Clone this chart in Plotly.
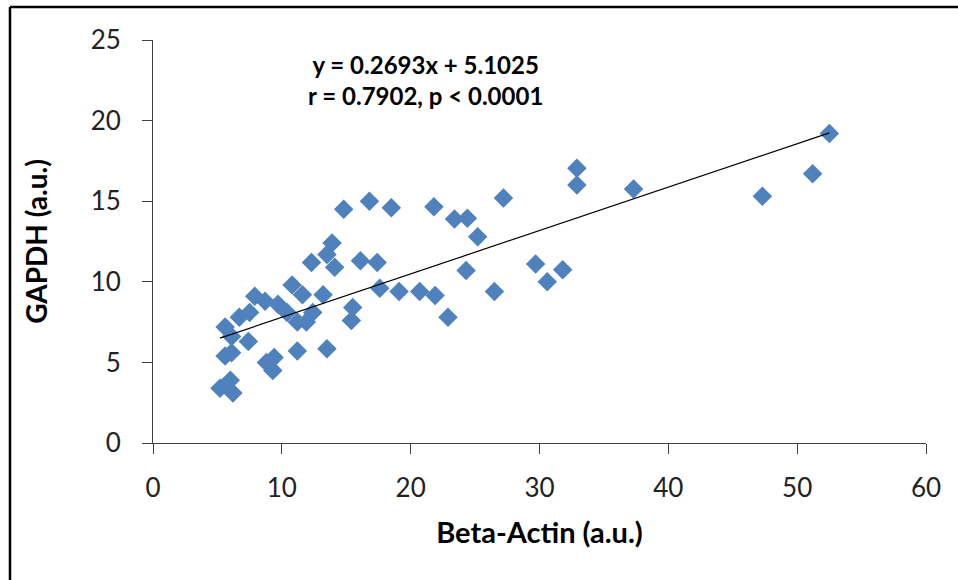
import plotly.graph_objects as go

beta_actin = [5.2, 6.0, 6.2, 5.6, 6.1, 7.4, 5.6, 6.1, 6.7, 7.5, 7.9, 8.7, 9.7, 10.4,
              10.8, 11.6, 11.2, 11.9, 12.4, 8.8, 9.3, 9.4, 11.2, 13.5, 13.2, 12.3,
              13.9, 13.5, 14.1, 14.8, 16.8, 18.5, 16.1, 17.4, 15.5, 15.4, 17.6, 19.1,
              20.7, 21.9, 22.9, 21.8, 23.4, 24.4, 25.2, 27.2, 24.3, 26.5, 29.7, 30.6,
              31.8, 32.9, 32.9, 37.3, 47.3, 51.2, 52.5]
gapdh = [3.4, 3.9, 3.1, 5.4, 6.6, 6.3, 7.2, 5.6, 7.8, 8.1, 9.1, 8.8, 8.6, 8.1,
         9.8, 9.2, 7.5, 7.5, 8.1, 5.0, 4.5, 5.3, 5.7, 5.85, 9.2, 11.2,
         12.4, 11.7, 10.9, 14.5, 15.0, 14.6, 11.3, 11.2, 8.4, 7.6, 9.6, 9.4,
         9.4, 9.15, 7.8, 14.65, 13.9, 13.95, 12.8, 15.2, 10.7, 9.4, 11.1, 10.0,
         10.75, 17.05, 16.0, 15.75, 15.3, 16.7, 19.2]

slope = 0.2693
intercept = 5.1025
eq_text = "y = 0.2693x + 5.1025"
stat_text = "r = 0.7902, p < 0.0001"
x_title = "Beta-Actin (a.u.)"
y_title = "GAPDH (a.u.)"

x_min, x_max = min(beta_actin), max(beta_actin)
fit_x = [x_min, x_max]
fit_y = [slope * v + intercept for v in fit_x]

fig = go.Figure()
fig.add_trace(go.Scatter(
    x=beta_actin, y=gapdh, mode="markers",
    marker=dict(symbol="diamond", size=15, color="#4F81BD", line=dict(width=0)),
    showlegend=False,
))
fig.add_trace(go.Scatter(
    x=fit_x, y=fit_y, mode="lines",
    line=dict(color="black", width=1.2), showlegend=False,
))

font_family = "Lato, Open Sans, sans-serif"
fig.add_annotation(
    x=0.353, y=0.901, xref="paper", yref="paper", xanchor="center", yanchor="middle",
    text=f"<b>{eq_text}</b><br><b>{stat_text}</b>", showarrow=False,
    font=dict(family=font_family, size=24, color="black"), align="center",
)

axis_common = dict(
    showgrid=False, zeroline=False, showline=True, linecolor="#404040", linewidth=1,
    ticks="outside", ticklen=10, tickcolor="#404040", tickwidth=1,
    tickfont=dict(family=font_family, size=26, color="#222222"),
)
fig.update_xaxes(range=[0, 60], dtick=10, tick0=0, ticklabelstandoff=12, **axis_common,
                 title=dict(text=f"<b>{x_title}</b>", standoff=20,
                            font=dict(family=font_family, size=29, color="black")))
fig.update_yaxes(range=[0, 25], dtick=5, tick0=0, ticklabelstandoff=16, **axis_common,
                 title=dict(text=f"<b>{y_title}</b>", standoff=34,
                            font=dict(family=font_family, size=28, color="black")))

# outer frame (top and left edges visible)
fig.add_shape(type="line", xref="paper", yref="paper", x0=-0.185, x1=1.06, y0=1.082, y1=1.082,
              line=dict(color="black", width=2.5))
fig.add_shape(type="line", xref="paper", yref="paper", x0=-0.185, x1=-0.185, y0=1.082, y1=-0.36,
              line=dict(color="black", width=2.5))

fig.update_layout(
    width=958, height=580,
    margin=dict(l=153, r=32, t=40, b=137),
    plot_bgcolor="white", paper_bgcolor="white",
)

fig.write_html("out.html", config={"displayModeBar": False},
               post_script="document.body.style.margin='0px';")
